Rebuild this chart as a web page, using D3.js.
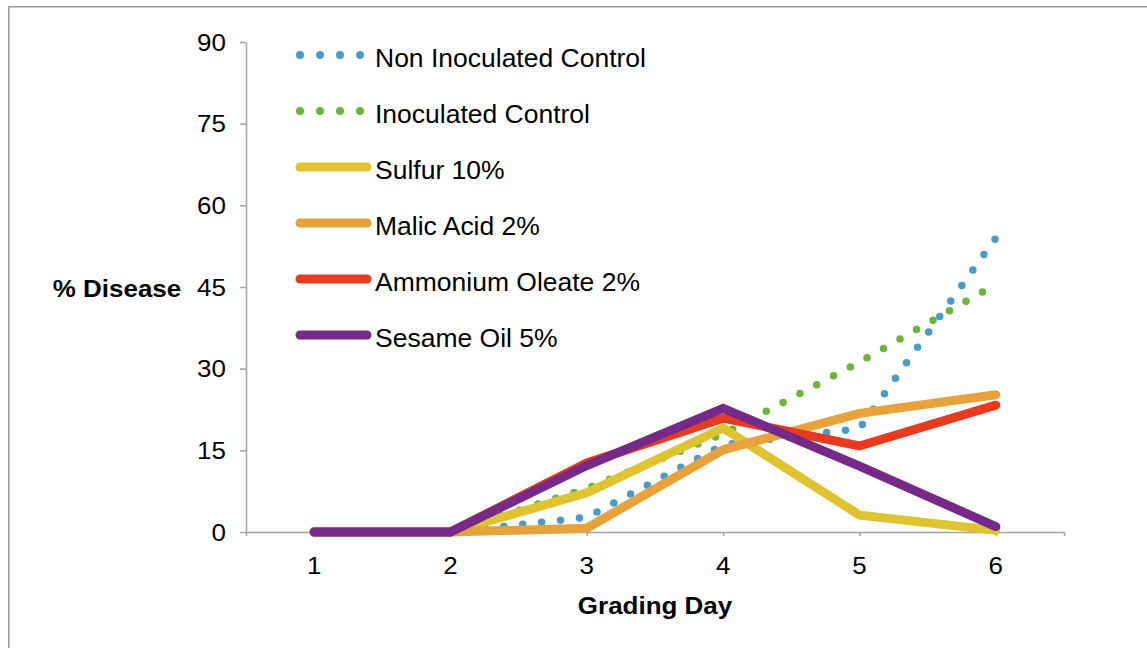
<!DOCTYPE html>
<html><head><meta charset="utf-8">
<script src="https://cdn.jsdelivr.net/npm/d3@7/dist/d3.min.js"></script>
<style>body{margin:0;background:#fff;} svg{display:block;} text{font-family:"Liberation Sans",Arial,sans-serif;fill:#000;}</style>
</head><body><svg id="c" width="1147" height="648"></svg>
<script>
const days = ["1","2","3","4","5","6"];
const yTicks = [0,15,30,45,60,75,90];
const seriesNames = ["Non Inoculated Control","Inoculated Control","Sulfur 10%","Malic Acid 2%","Ammonium Oleate 2%","Sesame Oil 5%"];
const nonInoculated = [0,0,2.7,16,19,54];
const inoculated = [0,0,8,18,31.2,45.5];
const sulfur = [0,0,7.2,19.1,3.1,0.3];
const malicAcid = [0,0,0.7,15.1,21.8,25.2];
const ammoniumOleate = [0,0,12.7,20.9,15.8,23.3];
const sesameOil = [0,0,12.2,22.7,12.1,1.0];
const colors = ["#4a9cc7","#6cb43b","#dec430","#e8a23c","#e83a1e","#762a87"];
const dotted = [true,true,false,false,false,false];

const series = [nonInoculated, inoculated, sulfur, malicAcid, ammoniumOleate, sesameOil];
const svg = d3.select("#c");
function txt(x, y, s, opt) {
  opt = opt || {};
  svg.append("text")
    .attr("transform", `translate(${x},${y}) scale(${opt.sx || 1.06},1)`)
    .attr("text-anchor", opt.anchor || "start")
    .attr("font-size", opt.size || 24.5)
    .attr("font-weight", opt.bold ? "bold" : "normal")
    .text(s);
}

// frame
svg.append("path").attr("d","M8.75,648 V6.75 H1147").attr("fill","none").attr("stroke","#9a9a9a").attr("stroke-width",1.5);

const x = d3.scalePoint().domain(days).range([246,1064]).padding(0.5);
const y = d3.scaleLinear().domain([0,90]).range([532,42]);

const gy = svg.append("g").attr("transform","translate(246,0)")
  .call(d3.axisLeft(y).tickValues(yTicks).tickSize(6).tickSizeOuter(0).tickFormat(""));
const gx = svg.append("g").attr("transform","translate(0,532)")
  .call(d3.axisBottom(x).tickSize(4).tickSizeOuter(4).tickFormat(""));
[gx,gy].forEach(g=>{g.selectAll("path,line").attr("stroke","#a3a3a3").attr("stroke-width",1.5);});

yTicks.forEach(t=>txt(226, y(t)+8.5, String(t), {anchor:"end"}));
days.forEach(d=>txt(x(d), 574, d, {anchor:"middle"}));
txt(655, 614, "Grading Day", {anchor:"middle", bold:true});
txt(117, 297, "% Disease", {anchor:"middle", bold:true});

const line = d3.line().x((d,i)=>x(days[i])).y(d=>y(d));
series.forEach((s,i)=>{
  const p = svg.append("path").attr("d", line(s)).attr("fill","none")
    .attr("stroke", colors[i]).attr("stroke-linecap","round");
  if (dotted[i]) p.attr("stroke-width",7.5).attr("stroke-dasharray","0 19");
  else p.attr("stroke-width",9).attr("stroke-linejoin","miter");
});

// legend
const legY = d3.scaleLinear().domain([0,5]).range([55,335]);
seriesNames.forEach((n,i)=>{
  const yy = legY(i);
  if (dotted[i]) {
    svg.append("path").attr("d",`M300,${yy} H365`).attr("stroke",colors[i]).attr("stroke-width",8)
      .attr("stroke-linecap","round").attr("stroke-dasharray","0 20").attr("fill","none");
  } else {
    svg.append("path").attr("d",`M300,${yy} H367`).attr("stroke",colors[i]).attr("stroke-width",9)
      .attr("stroke-linecap","round").attr("fill","none");
  }
  txt(375, yy+12, n, {size:25});
});
</script></body></html>
